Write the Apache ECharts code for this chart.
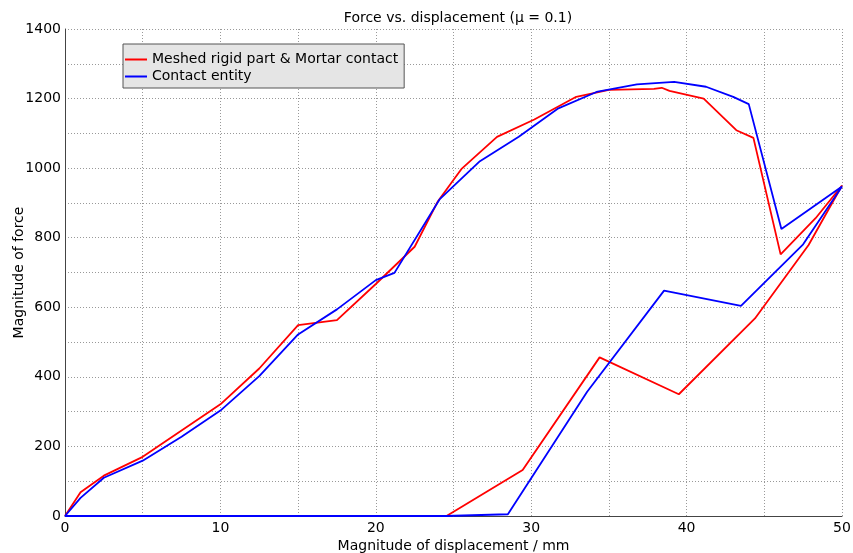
<!DOCTYPE html>
<html>
<head>
<meta charset="utf-8">
<script src="https://cdn.jsdelivr.net/npm/echarts@6/dist/echarts.min.js"></script>
<style>
  html, body { margin: 0; padding: 0; background: #fff; }
  #chart { width: 853px; height: 553px; }
</style>
</head>
<body>
<div id="chart"></div>
<script>
// Meshed rigid part & Mortar contact: loading branch then unloading branch
const xRed = [0, 1, 2.5, 5, 10, 12.5, 15, 17.5, 20, 22.5, 24, 25.5, 27.8, 30.2, 32.9, 35, 37.9, 38.4, 38.9, 41.1, 43.2, 44.3, 46.05, 48.3, 50,
  47.85, 44.4, 39.5, 34.4, 29.45, 24.55, 0]
const yRed = [0, 68, 116, 170, 321, 424, 549, 563, 667, 774, 905, 997, 1090, 1140, 1205, 1225, 1228, 1231, 1222, 1200, 1109, 1087, 752, 856, 950,
  779, 568, 350, 456, 132, 0, 0]

// Contact entity
const xBlue = [0, 1, 2.5, 5, 7.5, 10, 12.5, 15, 17.5, 20, 21.2, 24.1, 26.7, 29.2, 31.75, 34.2, 36.8, 39.2, 41.25, 43, 44, 46.1, 50,
  47.5, 43.5, 38.55, 33.6, 28.5, 24.5, 0]
const yBlue = [0, 52, 110, 159, 228, 303, 402, 522, 594, 678, 699, 910, 1020, 1090, 1172, 1219, 1241, 1248, 1234, 1205, 1184, 825, 947,
  781, 604, 648, 357, 5, 0, 0]

const seriesNames = ['Meshed rigid part & Mortar contact', 'Contact entity']

const pairs = (xs, ys) => xs.map((x, i) => [x, ys[i]])

const font = 'DejaVu Sans'
const dotted = { color: '#999', type: [1, 2], width: 1 }

let chart = echarts.init(document.getElementById('chart'))

let option = {
  animation: false,
  textStyle: { fontFamily: font },
  title: {
    text: 'Force vs. displacement (\u03bc = 0.1)',
    left: 453,
    textAlign: 'center',
    top: 6,
    textStyle: { fontFamily: font, fontSize: 14, fontWeight: 'normal', color: '#000' }
  },
  legend: {
    left: 123,
    top: 44,
    orient: 'vertical',
    data: seriesNames,
    icon: 'rect',
    itemWidth: 22,
    itemHeight: 2,
    itemGap: 0,
    padding: [7, 6, 3, 2],
    backgroundColor: '#e5e5e5',
    borderColor: '#555',
    borderWidth: 1,
    borderRadius: 0,
    textStyle: { fontFamily: font, fontSize: 14, color: '#000', lineHeight: 17 }
  },
  grid: { left: 65, right: 11, top: 29, bottom: 37, containLabel: false, outerBoundsMode: 'none' },
  xAxis: {
    type: 'value',
    min: 0,
    max: 50,
    interval: 10,
    name: 'Magnitude of displacement / mm',
    nameLocation: 'middle',
    nameGap: 23,
    nameMoveOverlap: false,
    nameTextStyle: { fontFamily: font, fontSize: 14, color: '#000' },
    axisLine: { show: true, lineStyle: { color: '#444', width: 1 } },
    axisTick: { show: false },
    axisLabel: { fontFamily: font, fontSize: 14, color: '#000', margin: 5, formatter: v => String(v) },
    splitLine: { show: true, lineStyle: dotted },
    minorTick: { show: false, splitNumber: 2 },
    minorSplitLine: { show: true, lineStyle: dotted }
  },
  yAxis: {
    type: 'value',
    min: 0,
    max: 1400,
    interval: 200,
    name: 'Magnitude of force',
    nameLocation: 'middle',
    nameGap: 39,
    nameMoveOverlap: false,
    nameTextStyle: { fontFamily: font, fontSize: 14, color: '#000' },
    axisLine: { show: true, lineStyle: { color: '#444', width: 1 } },
    axisTick: { show: false },
    axisLabel: { fontFamily: font, fontSize: 14, color: '#000', margin: 4, formatter: v => String(v) },
    splitLine: { show: true, lineStyle: dotted },
    minorTick: { show: false, splitNumber: 2 },
    minorSplitLine: { show: true, lineStyle: dotted }
  },
  series: [
    {
      name: seriesNames[0],
      type: 'line',
      data: pairs(xRed, yRed),
      symbol: 'none',
      color: '#ff0000',
      lineStyle: { width: 1.8, color: '#ff0000' }
    },
    {
      name: seriesNames[1],
      type: 'line',
      data: pairs(xBlue, yBlue),
      symbol: 'none',
      color: '#0000ff',
      lineStyle: { width: 1.8, color: '#0000ff' }
    }
  ]
}

chart.setOption(option)
</script>
</body>
</html>
